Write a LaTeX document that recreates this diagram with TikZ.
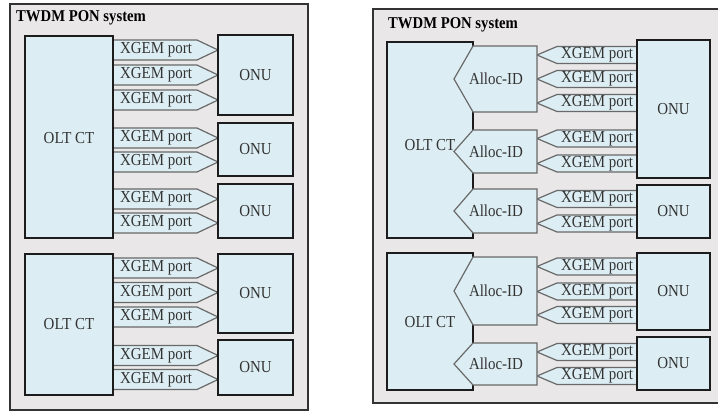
\documentclass[tikz,border=0pt]{standalone}
\usepackage{fontspec}
\setmainfont{Liberation Serif}
\newfontfamily\narrowserif[FakeStretch=0.89]{Liberation Serif}
\definecolor{cellblue}{RGB}{220,238,244}
\definecolor{panelgray}{RGB}{233,231,231}
\definecolor{edgegray}{RGB}{105,105,105}
\definecolor{ink}{RGB}{28,28,28}

\begin{document}
\begin{tikzpicture}[x=1pt,y=-1pt,
  panel/.style={fill=panelgray,draw=ink!90,line width=1.8pt},
  unit/.style={fill=cellblue,draw=ink,line width=2.6pt},
  port/.style={fill=cellblue,draw=edgegray,line width=1.2pt,line join=miter},
  alloc/.style={fill=cellblue,draw=edgegray,line width=1.2pt,line join=miter},
  lbl/.style={font=\narrowserif\fontsize{16.8}{17}\selectfont,text=ink!90,inner sep=0pt},
  heading/.style={font=\narrowserif\fontsize{16.5}{17}\selectfont\bfseries,text=black,inner sep=0pt,anchor=west}]

\useasboundingbox (0,0) rectangle (718,412);
\fill[white] (0,0) rectangle (718,412);

% ---------------- left system: XGEM ports straight from the OLT CT ----------------
\draw[panel] (10,4) rectangle (308,410);
\node[heading] (ltitle) at (16,18) {TWDM PON system};

\foreach \y [count=\i] in {50,75,100,138,162,199,223,268,292.5,317,355.5,379.5} {
  \draw[port] (113,\y-10) -- (197,\y-10) -- (218,\y) -- (197,\y+10) -- (113,\y+10);
}

\draw[unit] (25,36) rectangle (113,238);
\draw[unit] (25,254) rectangle (113,395);

\draw[unit] (218,35) rectangle (293,115);
\draw[unit] (218,123) rectangle (293,176);
\draw[unit] (218,184) rectangle (293,238);
\draw[unit] (218,254) rectangle (293,333);
\draw[unit] (218,340) rectangle (293,395);

\node[lbl] (lolt1) at (69,138) {OLT CT};
\node[lbl] (lolt2) at (69,324) {OLT CT};
\node[lbl] (lonu1) at (255.5,75) {ONU};
\node[lbl] (lonu2) at (255.5,149.5) {ONU};
\node[lbl] (lonu3) at (255.5,211) {ONU};
\node[lbl] (lonu4) at (255.5,293.5) {ONU};
\node[lbl] (lonu5) at (255.5,367.5) {ONU};
\foreach \y [count=\i] in {50,75,100,138,162,199,223,268,292.5,317,355.5,379.5} {
  \node[lbl] (lport\i) at (156,\y) {XGEM port};
}

% ---------------- right system: XGEM ports grouped by Alloc-ID ----------------
\fill[panelgray] (373,9) rectangle (718,403);
\draw[ink!90,line width=1.8pt] (721,9) -- (373,9) -- (373,403) -- (721,403);
\node[heading] (rtitle) at (388,25) {TWDM PON system};

\foreach \y in {55,79,103,138.5,163.5,199,223.5,266.5,291.5,315,352,376} {
  \draw[port] (637,\y-8.5) -- (557,\y-8.5) -- (537,\y) -- (557,\y+8.5) -- (637,\y+8.5);
}

\draw[unit] (387,42) rectangle (473,238);
\draw[unit] (387,253) rectangle (473,390);

\foreach \t/\b in {46/112,130/173,189/233,257/325,343/385} {
  \draw[alloc] (473,\t) -- (537,\t) -- (537,\b) -- (473,\b) -- (454,{(\t+\b)/2}) -- cycle;
}

\draw[unit] (637,40) rectangle (710,178);
\draw[unit] (637,185) rectangle (710,238);
\draw[unit] (637,253) rectangle (710,330);
\draw[unit] (637,337) rectangle (710,390);

\node[lbl] (rolt1) at (430,145) {OLT CT};
\node[lbl] (rolt2) at (430,322) {OLT CT};
\foreach \t/\b [count=\i] in {46/112,130/173,189/233,257/325,343/385} {
  \node[lbl] (ralloc\i) at (496,{(\t+\b)/2}) {Alloc-ID};
}
\node[lbl] (ronu1) at (673.5,109) {ONU};
\node[lbl] (ronu2) at (673.5,211.5) {ONU};
\node[lbl] (ronu3) at (673.5,291.5) {ONU};
\node[lbl] (ronu4) at (673.5,363.5) {ONU};
\foreach \y [count=\i] in {55,79,103,138.5,163.5,199,223.5,266.5,291.5,315,352,376} {
  \node[lbl] (rport\i) at (597,\y) {XGEM port};
}
\end{tikzpicture}
\end{document}
